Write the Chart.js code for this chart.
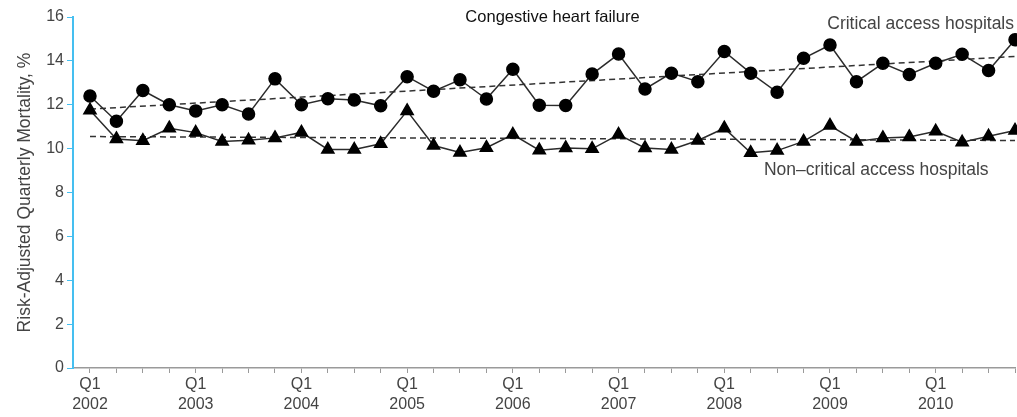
<!DOCTYPE html>
<html>
<head>
<meta charset="utf-8">
<script src="https://cdn.jsdelivr.net/npm/chart.js@4/dist/chart.umd.min.js"></script>
<style>
  html, body { margin: 0; padding: 0; background: #fff; }
  #wrap { width: 1017px; height: 417px; }
</style>
</head>
<body>
<div id="wrap"><canvas id="chart"></canvas></div>
<script>
// quarters 2002 Q1 .. 2010 Q4
const years = ["2002", "2003", "2004", "2005", "2006", "2007", "2008", "2009", "2010"];
const quarters = years.flatMap(y => ["Q1", "Q2", "Q3", "Q4"].map(q => [q, y]));

const criticalAccess = [
  12.4, 11.25, 12.65, 12.0, 11.72, 12.0, 11.58, 13.18, 12.0, 12.27, 12.22, 11.95,
  13.28, 12.62, 13.14, 12.26, 13.62, 11.98, 11.97, 13.4, 14.31, 12.72, 13.44, 13.05,
  14.43, 13.44, 12.57, 14.12, 14.72, 13.05, 13.89, 13.38, 13.89, 14.3, 13.56, 14.96
];
const nonCriticalAccess = [
  11.75, 10.44, 10.36, 10.93, 10.73, 10.33, 10.38, 10.49, 10.74, 9.96, 9.96, 10.22,
  11.72, 10.14, 9.82, 10.04, 10.64, 9.93, 10.03, 9.99, 10.64, 10.03, 9.96, 10.37,
  10.93, 9.81, 9.91, 10.33, 11.05, 10.33, 10.49, 10.53, 10.79, 10.29, 10.56, 10.83
];
// fitted trend lines, value at first and last quarter
const criticalTrend = [11.8, 14.2];
const nonCriticalTrend = [10.55, 10.37];

const title = "Congestive heart failure";
const yTitle = "Risk-Adjusted Quarterly Mortality, %";
const criticalLabel = "Critical access hospitals";
const nonCriticalLabel = "Non\u2013critical access hospitals";

const ink = "#2b2b2b";
const textGray = "#444";
const font = "'Liberation Sans', Arial, sans-serif";

const toPoints = arr => arr.map((v, i) => ({ x: i, y: v }));
const last = quarters.length - 1;

const labelsPlugin = {
  id: "labels",
  afterDraw(chart) {
    const { ctx } = chart;
    const x = chart.scales.x;
    const y = chart.scales.y;
    ctx.save();
    ctx.textBaseline = "middle";
    ctx.fillStyle = "#111";
    ctx.font = `16.5px ${font}`;
    ctx.textAlign = "center";
    ctx.fillText(title, x.getPixelForValue(17.5), 17);
    ctx.fillStyle = textGray;
    ctx.font = `17.5px ${font}`;
    ctx.textAlign = "right";
    ctx.fillText(criticalLabel, chart.chartArea.right - 1, y.getPixelForValue(15.68));
    ctx.textAlign = "left";
    ctx.fillText(nonCriticalLabel, x.getPixelForValue(25.5), y.getPixelForValue(9.02));
    ctx.restore();
  }
};

new Chart(document.getElementById("chart"), {
  type: "line",
  data: {
    datasets: [
      {
        label: criticalLabel,
        data: toPoints(criticalAccess),
        borderColor: ink,
        borderWidth: 1.5,
        pointStyle: "circle",
        pointRadius: 6,
        pointBackgroundColor: "#000",
        pointBorderColor: "#000",
        tension: 0,
        clip: false
      },
      {
        label: nonCriticalLabel,
        data: toPoints(nonCriticalAccess),
        borderColor: ink,
        borderWidth: 1.5,
        pointStyle: "triangle",
        pointRadius: 7,
        pointBackgroundColor: "#000",
        pointBorderColor: "#000",
        tension: 0,
        clip: false
      },
      {
        label: "critical trend",
        data: [{ x: 0, y: criticalTrend[0] }, { x: last, y: criticalTrend[1] }],
        borderColor: "#333",
        borderWidth: 1.5,
        borderDash: [6, 4],
        pointRadius: 0,
        clip: false
      },
      {
        label: "non-critical trend",
        data: [{ x: 0, y: nonCriticalTrend[0] }, { x: last, y: nonCriticalTrend[1] }],
        borderColor: "#333",
        borderWidth: 1.5,
        borderDash: [6, 4],
        pointRadius: 0,
        clip: false
      }
    ]
  },
  options: {
    responsive: true,
    maintainAspectRatio: false,
    animation: false,
    layout: { autoPadding: false, padding: { top: 17, right: 1, left: 0, bottom: 0 } },
    plugins: {
      legend: { display: false },
      tooltip: { enabled: false }
    },
    scales: {
      x: {
        type: "linear",
        min: -0.6425,
        max: last,
        afterBuildTicks: scale => {
          scale.ticks = quarters.map((_, i) => ({ value: i }));
        },
        afterFit: scale => { scale.height = 49; },
        border: { color: "#9a9a9a", width: 1.5 },
        grid: { drawOnChartArea: false, tickLength: 5, color: "#9a9a9a" },
        ticks: {
          autoSkip: false,
          maxRotation: 0,
          padding: 2,
          color: textGray,
          font: { family: font, size: 16, lineHeight: 1.25 },
          callback: (v, i) => (i % 4 === 0 ? quarters[i] : "")
        }
      },
      y: {
        min: 0,
        max: 16,
        afterFit: scale => { scale.width = 73; },
        border: { color: "#45bff0", width: 2 },
        grid: { drawOnChartArea: false, tickLength: 6, color: "#45bff0" },
        ticks: {
          stepSize: 2,
          padding: 3,
          color: textGray,
          font: { family: font, size: 16 }
        },
        title: {
          display: true,
          text: yTitle,
          color: textGray,
          padding: { top: 15, bottom: 0 },
          font: { family: font, size: 17.5 }
        }
      }
    }
  },
  plugins: [labelsPlugin]
});
</script>
</body>
</html>
